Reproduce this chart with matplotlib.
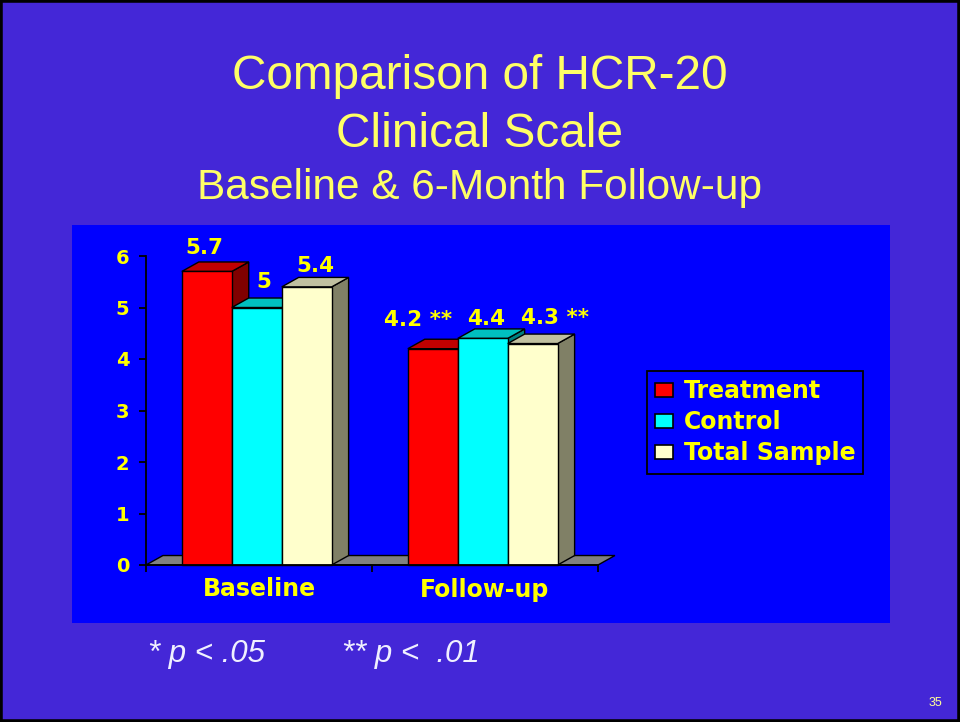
import matplotlib
matplotlib.use('Agg')
import matplotlib.pyplot as plt
from matplotlib.patches import Polygon, Rectangle, Patch

plt.rcParams['font.family'] = ['Liberation Sans', 'DejaVu Sans']

categories = ['Baseline', 'Follow-up']
series_names = ['Treatment', 'Control', 'Total Sample']
values = {
    'Treatment': [5.7, 4.2],
    'Control': [5.0, 4.4],
    'Total Sample': [5.4, 4.3],
}
value_labels = {
    'Treatment': ['5.7', '4.2 **'],
    'Control': ['5', '4.4'],
    'Total Sample': ['5.4', '4.3 **'],
}
y_ticks = [0, 1, 2, 3, 4, 5, 6]

front = {'Treatment': '#FF0000', 'Control': '#00FFFF', 'Total Sample': '#FFFFCC'}
top = {'Treatment': '#C00000', 'Control': '#00C0C0', 'Total Sample': '#C0C0A0'}
side = {'Treatment': '#800000', 'Control': '#008080', 'Total Sample': '#808066'}
# label nudges in pixels (x, y above the back edge)
nudge = {
    'Treatment': [(-11, 8), (-23, 13)],
    'Control': [(-1, 10), (-5, 4)],
    'Total Sample': [(0, 5), (14, 10)],
}

yellow = '#FFFF00'
wide = 'DejaVu Sans'  # the chart texts are a wide bold face
fig = plt.figure(figsize=(9.6, 7.22), dpi=100)
fig.patch.set_facecolor('#4427D7')
fig.patches.append(Rectangle((0, 0), 1, 1, transform=fig.transFigure,
                             fill=False, edgecolor='black', lw=4, zorder=50))
fig.patches.append(Rectangle((72 / 960, 1 - 623 / 722), 818 / 960, 398 / 722,
                             transform=fig.transFigure, facecolor='#0000FF',
                             edgecolor='none', zorder=-10))

ax = fig.add_axes([146 / 960, 1 - 565 / 722, 452 / 960, 309 / 722])
ax.set_facecolor('none')
ax.set_xlim(0, len(categories))
ax.set_ylim(0, 6)

width = 0.221
dx = 0.075
dy = 0.184

floor = Polygon([(0, 0), (2, 0), (2 + dx, dy), (dx, dy)], closed=True,
                facecolor='#808080', edgecolor='black', lw=1, zorder=1, clip_on=False)
ax.add_patch(floor)

z = 2
for i, cat in enumerate(categories):
    for j, name in enumerate(series_names):
        v = values[name][i]
        x0 = i + 0.49 + (j - 1.5) * width
        x1 = x0 + width
        ax.add_patch(Polygon([(x1, 0), (x1 + dx, dy), (x1 + dx, v + dy), (x1, v)],
                             closed=True, facecolor=side[name], edgecolor='black',
                             lw=1, zorder=z, clip_on=False))
        ax.add_patch(Polygon([(x0, v), (x1, v), (x1 + dx, v + dy), (x0 + dx, v + dy)],
                             closed=True, facecolor=top[name], edgecolor='black',
                             lw=1, zorder=z, clip_on=False))
        ax.bar(x0, v, width, align='edge', color=front[name], edgecolor='black',
               lw=1, zorder=z, clip_on=False)
        nx, ny = nudge[name][i]
        ax.annotate(value_labels[name][i], xy=(x0 + width / 2 + dx / 2, v + dy),
                    xytext=(nx * 0.72, ny * 0.72), textcoords='offset points',
                    ha='center', va='baseline', fontsize=15.5, fontweight='bold',
                    family=wide, color=yellow, zorder=20, annotation_clip=False)
        z += 1

for s in ['top', 'right']:
    ax.spines[s].set_visible(False)
ax.spines['left'].set_linewidth(1.3)
ax.spines['bottom'].set_linewidth(1.3)
ax.spines['bottom'].set_zorder(30)

ax.set_yticks(y_ticks)
ax.set_yticklabels([str(t) for t in y_ticks])
ax.tick_params(axis='y', direction='out', length=5, width=1.3, pad=7,
               labelsize=14, labelcolor=yellow)
for lab in ax.get_yticklabels():
    lab.set_fontweight('bold')
    lab.set_family(wide)

ax.set_xticks([0, 1, 2])
ax.set_xticklabels(['', '', ''])
ax.set_xticks([0.5, 1.5], minor=True)
ax.set_xticklabels(categories, minor=True)
ax.tick_params(axis='x', which='major', direction='out', length=5, width=1.3)
ax.tick_params(axis='x', which='minor', length=0, pad=9, labelsize=17,
               labelcolor=yellow)
for lab in ax.get_xticklabels(minor=True):
    lab.set_fontweight('bold')
    lab.set_family(wide)

handles = [Patch(facecolor=front[n], edgecolor='black', lw=1.2) for n in series_names]
leg = ax.legend(handles, series_names, loc='upper left',
                bbox_to_anchor=(647 / 960, 1 - 371 / 722),
                bbox_transform=fig.transFigure, frameon=True, fancybox=False,
                facecolor='#0000FF', edgecolor='black', framealpha=1,
                prop={'size': 17, 'weight': 'bold', 'family': wide},
                handlelength=0.75, handleheight=0.55, handletextpad=0.45,
                labelspacing=0.3, borderpad=0.35, borderaxespad=0)
for t in leg.get_texts():
    t.set_color(yellow)
leg.get_frame().set_linewidth(1.3)

title_color = '#FFFF66'
fig.text(0.5, 1 - 89 / 722, 'Comparison of HCR-20', ha='center', va='baseline',
         fontsize=34.4, color=title_color)
fig.text(0.5, 1 - 147 / 722, 'Clinical Scale', ha='center', va='baseline',
         fontsize=34.4, color=title_color)
fig.text(0.5, 1 - 199 / 722, 'Baseline & 6-Month Follow-up', ha='center',
         va='baseline', fontsize=30.5, color=title_color)

note_color = '#F0F0FF'
fig.text(148 / 960, 1 - 662 / 722, '* p < .05', ha='left', va='baseline',
         fontsize=22.5, style='italic', color=note_color)
fig.text(342 / 960, 1 - 662 / 722, '** p <  .01', ha='left', va='baseline',
         fontsize=22.5, style='italic', color=note_color)
fig.text(935 / 960, 1 - 706 / 722, '35', ha='center', va='baseline',
         fontsize=9, color='#FFFF99')

fig.savefig('out.png', dpi=100, facecolor=fig.get_facecolor())
